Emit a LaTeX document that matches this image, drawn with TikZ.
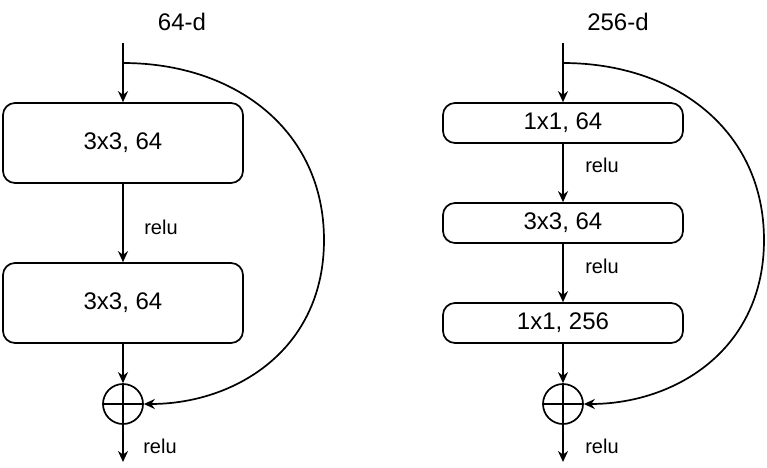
\documentclass[tikz,border=0pt]{standalone}
\usepackage{fontspec}
\setmainfont{Liberation Sans}
\usetikzlibrary{positioning}
\usetikzlibrary{arrows.meta}

\begin{document}
\begin{tikzpicture}[x=0.5pt,y=-0.5pt,line width=0.85pt,
    >={Stealth[length=5.5pt,width=5pt]},
    layer/.style={draw,rounded corners=6pt,minimum width=120pt,
      font=\fontsize{12}{14}\selectfont},
    tall/.style={layer,minimum height=40pt},
    flat/.style={layer,minimum height=20pt},
    sum/.style={draw,circle,minimum size=20pt,inner sep=0pt},
    note/.style={font=\fontsize{10}{12}\selectfont}]
    \useasboundingbox (0,0) rectangle (767,467);
    % plain block
    \coordinate (inA) at (123,43);
    \coordinate (brA) at (123,63);
    \coordinate (outA) at (123,462);
    \node[font=\fontsize{12}{14}\selectfont] (dA) at (182,22) {64-d};
    \node[tall] (a1) at (123,143) {3x3, 64};
    \node[tall] (a2) at (123,303) {3x3, 64};
    \node[sum] (sA) at (123,404) {};
    \node[note] (rA1) at (161,227) {relu};
    \node[note] (rA2) at (160,446) {relu};
    \draw[->] (inA) -- (a1);
    \draw[->] (a1) -- (a2);
    \draw[->] (a2) -- (sA);
    \draw[->] (sA) -- (outA);
    \draw (sA.north) -- (sA.south) (sA.west) -- (sA.east);
    \draw[->] (brA) .. controls (235,63) and (324,130) .. (324,240)
      .. controls (324,350) and (235,404) .. (sA.east);
    % bottleneck block
    \coordinate (inB) at (563,43);
    \coordinate (brB) at (563,63);
    \coordinate (outB) at (563,462);
    \node[font=\fontsize{12}{14}\selectfont] (dB) at (618,22) {256-d};
    \node[flat] (b1) at (563,123) {1x1, 64};
    \node[flat] (b2) at (563,223) {3x3, 64};
    \node[flat] (b3) at (563,323) {1x1, 256};
    \node[sum] (sB) at (563,404) {};
    \node[note] (rB1) at (602,165) {relu};
    \node[note] (rB2) at (602,266) {relu};
    \node[note] (rB3) at (602,446) {relu};
    \draw[->] (inB) -- (b1);
    \draw[->] (b1) -- (b2);
    \draw[->] (b2) -- (b3);
    \draw[->] (b3) -- (sB);
    \draw[->] (sB) -- (outB);
    \draw (sB.north) -- (sB.south) (sB.west) -- (sB.east);
    \draw[->] (brB) .. controls (675,63) and (764,130) .. (764,240)
      .. controls (764,350) and (675,404) .. (sB.east);
  \end{tikzpicture}
\end{document}
